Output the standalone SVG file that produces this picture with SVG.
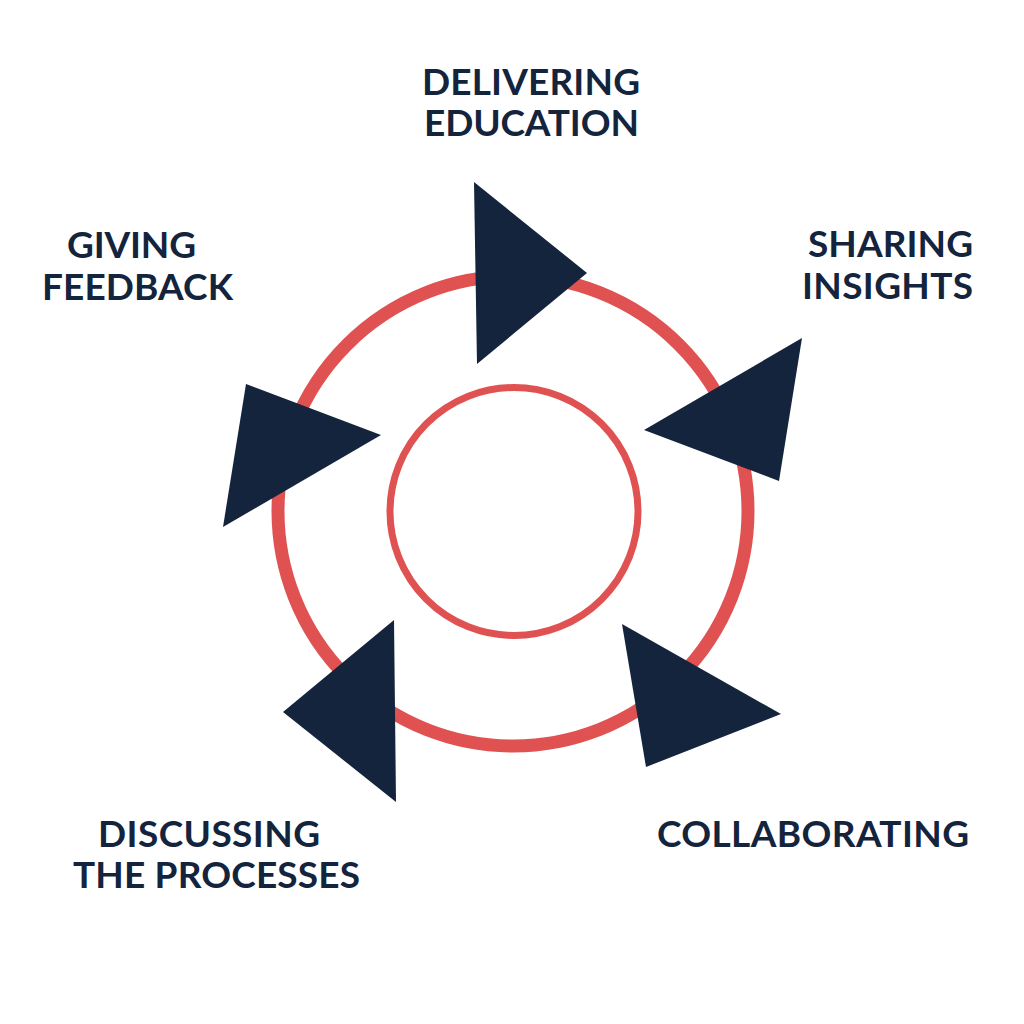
<svg xmlns="http://www.w3.org/2000/svg" width="1024" height="1024" viewBox="0 0 1024 1024">
<style>
.ring{fill:none;stroke:#E05252}
.tri{fill:#14243D}
.lbl{font-family:Lato,"Liberation Sans",Arial,sans-serif;font-weight:700;font-size:37px;fill:#14243D}
</style>
<rect width="1024" height="1024" fill="#FFFFFF"/>
<g id="connectors">
<circle class="ring" cx="513" cy="511" r="235" stroke-width="13"/>
<circle class="ring" cx="514" cy="511.5" r="124" stroke-width="7"/>
<polygon class="tri" points="474,182 587,273 477,364"/>
<polygon class="tri" points="802,338 644,430 779,481"/>
<polygon class="tri" points="622,624 781,714 646,767"/>
<polygon class="tri" points="394,620 283,712 396,802"/>
<polygon class="tri" points="246,384 381,435 223,527"/>
</g>
<g id="node-delivering">
<text class="lbl" x="422" y="95" textLength="218">DELIVERING</text>
<text class="lbl" x="424" y="136" textLength="215">EDUCATION</text>
</g>
<g id="node-sharing">
<text class="lbl" x="808" y="257" textLength="165">SHARING</text>
<text class="lbl" x="802" y="299" textLength="171">INSIGHTS</text>
</g>
<g id="node-collaborating">
<text class="lbl" x="657" y="847" textLength="312">COLLABORATING</text>
</g>
<g id="node-discussing">
<text class="lbl" x="98" y="847" textLength="222">DISCUSSING</text>
<text class="lbl" x="73" y="888" textLength="287">THE PROCESSES</text>
</g>
<g id="node-giving">
<text class="lbl" x="67" y="258" textLength="129">GIVING</text>
<text class="lbl" x="42" y="300" textLength="191">FEEDBACK</text>
</g>
</svg>
